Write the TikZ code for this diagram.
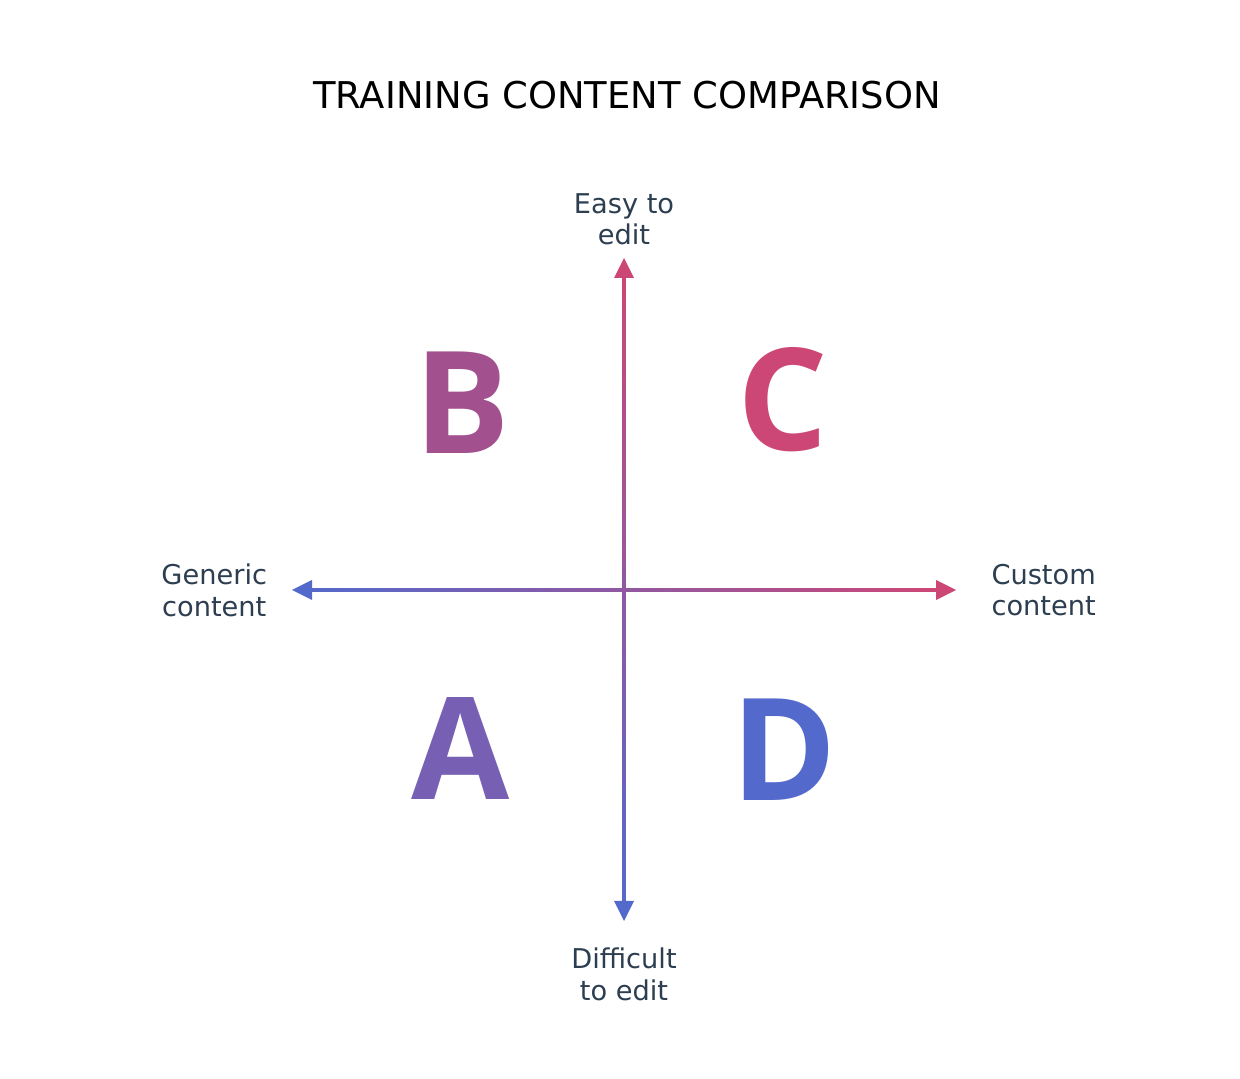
\documentclass[tikz,border=0pt]{standalone}
\usepackage{fontspec}
\setmainfont{DejaVu Sans}
\newfontfamily\quadfont{Open Sans}
\definecolor{pink_c}{HTML}{CD4776}
\definecolor{mauve_c}{HTML}{A3508F}
\definecolor{violet_c}{HTML}{7760B3}
\definecolor{blue_c}{HTML}{5469CC}
\definecolor{text_c}{HTML}{2C3E50}
\usetikzlibrary{calc,
                positioning}

\begin{document}
\begin{tikzpicture}[
			x=0.02cm, y=0.02cm,
			axislabel/.style = {align=center, text=text_c, inner sep=0pt,
				font=\fontsize{15.5}{18.1}\selectfont},
			quadrant/.style = {inner sep=0pt,
				font=\quadfont\bfseries\fontsize{81}{81}\selectfont},
			]
			\useasboundingbox (0,0) rectangle (1240,1078);
			% title
			\node[font=\fontsize{21}{25}\selectfont] (title) at (627,983) {TRAINING CONTENT COMPARISON};
			% axis ends
			\coordinate (O) at (624,488);
			\coordinate (top) at (624,820);
			\coordinate (bot) at (624,157);
			\coordinate (lft) at (292,488);
			\coordinate (rgt) at (956,488);
			% shafts
			\shade[left color=blue_c, right color=pink_c]
			  ($(lft)+(18,-1.5)$) rectangle ($(rgt)+(-18,1.5)$);
			\shade[top color=pink_c, bottom color=blue_c]
			  ($(top)+(-1.5,-18)$) rectangle ($(bot)+(1.5,18)$);
			% heads
			\fill[pink_c] (top) -- ++(-10,-20) -- ++(20,0) -- cycle;
			\fill[blue_c] (bot) -- ++(-10,20) -- ++(20,0) -- cycle;
			\fill[blue_c] (lft) -- ++(20,10) -- ++(0,-20) -- cycle;
			\fill[pink_c] (rgt) -- ++(-20,10) -- ++(0,-20) -- cycle;
			% axis labels
			\node[axislabel, above=7pt of top] (easy) {Easy to\\edit};
			\node[axislabel, below=15pt of bot] (hard) {Difficult\\to edit};
			\node[axislabel, left=14pt of lft] (generic) {Generic\\content};
			\node[axislabel, right=20pt of rgt] (custom) {Custom\\content};
			% quadrants
			\node[quadrant, text=mauve_c] (B) at (462,675) {B};
			\node[quadrant, text=pink_c] (C) at (783,678) {C};
			\node[quadrant, text=violet_c] (A) at (461,330) {A};
			\node[quadrant, text=blue_c] (D) at (784,328) {D};
		\end{tikzpicture}
\end{document}
